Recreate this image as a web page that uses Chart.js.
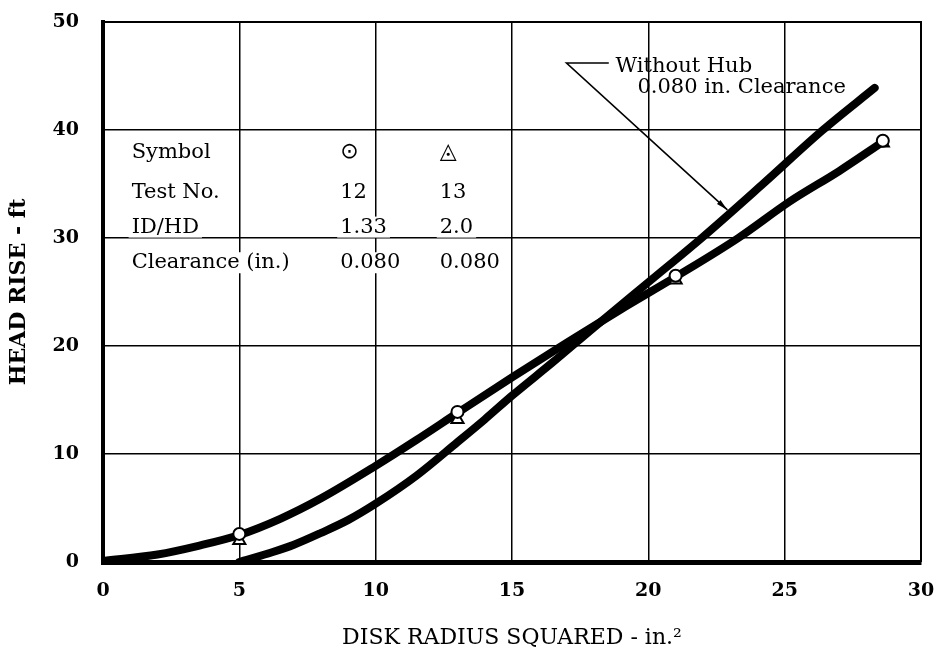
<!DOCTYPE html>
<html>
<head>
<meta charset="utf-8">
<script src="https://cdn.jsdelivr.net/npm/chart.js@4.4.1/dist/chart.umd.min.js"></script>
<style>
  html, body { margin: 0; padding: 0; background: #fff; }
</style>
</head>
<body>
<canvas id="headChart" width="936" height="658"></canvas>
<script>
// smooth curve faired through tests 12 and 13
const fitX = [0, 2, 3.5, 5, 6.5, 8, 10, 11.5, 13, 15, 17, 19, 21, 23.3, 25.2, 27, 28.6];
const fitY = [0.1, 0.7, 1.5, 2.5, 4.0, 5.9, 8.9, 11.3, 13.8, 17.1, 20.3, 23.4, 26.4, 30.0, 33.4, 36.2, 38.9];

// reference curve: no hub, 0.080 in. clearance
const noHubX = [5, 6.2, 7, 8, 9, 10, 11.5, 13, 14, 15, 16.5, 18, 20, 22, 24.2, 26.4, 28.3];
const noHubY = [0, 0.9, 1.6, 2.7, 3.9, 5.4, 8.0, 11.1, 13.2, 15.4, 18.5, 21.7, 25.9, 30.1, 35.0, 40.0, 43.9];

// measured points
const testX = [5, 13, 21, 28.6];
const test12Y = [2.6, 13.9, 26.5, 39.0];
const test13Y = [2.0, 13.2, 26.1, 38.8];

// table in the upper left
const tableRows = ['Symbol', 'Test No.', 'ID/HD', 'Clearance (in.)'];
const test12Col = ['\u2299', '12', '1.33', '0.080'];
const test13Col = ['\u25EC', '13', '2.0', '0.080'];

const noHubNote = ['Without Hub', '0.080 in. Clearance'];

const toPoints = (xs, ys) => xs.map((x, i) => ({ x: x, y: ys[i] }));

const serif = "'DejaVu Serif', serif";

// table, leader note and the thin top/right frame
const extras = {
    id: 'extras',
    beforeDatasetsDraw(chart) {
        const ctx = chart.ctx;
        const xs = chart.scales.x;
        const ys = chart.scales.y;
        const area = chart.chartArea;

        ctx.save();
        ctx.strokeStyle = '#000';
        ctx.lineWidth = 2;
        ctx.beginPath();
        ctx.moveTo(area.left, area.top);
        ctx.lineTo(area.right, area.top);
        ctx.lineTo(area.right, area.bottom);
        ctx.stroke();

        const rowY = [37.4, 33.7, 30.5, 27.2];
        const cells = (text, x, y, font) => {
            ctx.font = font;
            const px = xs.getPixelForValue(x);
            const py = ys.getPixelForValue(y);
            const m = ctx.measureText(text);
            ctx.fillStyle = '#fff';
            ctx.fillRect(px - 3, py - 16, m.width + 6, 21);
            ctx.fillStyle = '#000';
            ctx.fillText(text, px, py);
        };
        ctx.textBaseline = 'alphabetic';
        ctx.textAlign = 'left';
        tableRows.forEach((t, i) => {
            cells(t, 1.05, rowY[i], '21px ' + serif);
            const f = i === 0 ? "22px 'DejaVu Sans'" : '21px ' + serif;
            cells(test12Col[i], 8.7, rowY[i], f);
            cells(test13Col[i], 12.35, rowY[i], f);
        });

        // leader to the no-hub curve
        const ex = xs.getPixelForValue(17.0), ey = ys.getPixelForValue(46.2);
        const hx = xs.getPixelForValue(18.55);
        const tx = xs.getPixelForValue(22.9), ty = ys.getPixelForValue(32.6);
        ctx.lineWidth = 1.6;
        ctx.beginPath();
        ctx.moveTo(hx, ey);
        ctx.lineTo(ex, ey);
        ctx.lineTo(tx, ty);
        ctx.stroke();
        const ang = Math.atan2(ty - ey, tx - ex);
        ctx.beginPath();
        ctx.moveTo(tx, ty);
        ctx.lineTo(tx - 12 * Math.cos(ang - 0.22), ty - 12 * Math.sin(ang - 0.22));
        ctx.lineTo(tx - 12 * Math.cos(ang + 0.22), ty - 12 * Math.sin(ang + 0.22));
        ctx.closePath();
        ctx.fillStyle = '#000';
        ctx.fill();

        ctx.font = '21px ' + serif;
        ctx.fillText(noHubNote[0], xs.getPixelForValue(18.8), ys.getPixelForValue(45.4));
        ctx.fillText(noHubNote[1], xs.getPixelForValue(19.6), ys.getPixelForValue(43.4));
        ctx.restore();
    }
};

new Chart(document.getElementById('headChart'), {
    type: 'scatter',
    data: {
        datasets: [{
            label: 'Test 12',
            data: toPoints(testX, test12Y),
            pointStyle: 'circle',
            pointRadius: 6,
            pointBorderWidth: 2,
            pointBackgroundColor: '#fff',
            pointBorderColor: '#000',
            showLine: false,
            order: 0
        }, {
            label: 'Test 13',
            data: toPoints(testX, test13Y),
            pointStyle: 'triangle',
            pointRadius: 7,
            pointBorderWidth: 2,
            pointBackgroundColor: '#fff',
            pointBorderColor: '#000',
            showLine: false,
            order: 1
        }, {
            label: 'Faired curve',
            data: toPoints(fitX, fitY),
            showLine: true,
            borderColor: '#000',
            borderWidth: 8,
            pointRadius: 0,
            cubicInterpolationMode: 'monotone',
            borderCapStyle: 'round',
            order: 2
        }, {
            label: 'Without hub',
            data: toPoints(noHubX, noHubY),
            showLine: true,
            borderColor: '#000',
            borderWidth: 8,
            pointRadius: 0,
            cubicInterpolationMode: 'monotone',
            borderCapStyle: 'round',
            order: 3
        }]
    },
    options: {
        responsive: false,
        animation: false,
        devicePixelRatio: 1,
        layout: { padding: { top: 22, right: 15, bottom: 0, left: 0 } },
        plugins: {
            legend: { display: false },
            tooltip: { enabled: false }
        },
        scales: {
            x: {
                type: 'linear',
                min: 0,
                max: 30,
                afterFit: s => { s.height = 96; s.paddingLeft = 0; s.paddingRight = 0; },
                ticks: {
                    stepSize: 5,
                    color: '#000',
                    padding: 18,
                    font: { family: serif, size: 19, weight: 'bold' }
                },
                grid: { color: '#000', lineWidth: 1.5, drawTicks: false },
                border: { color: '#000', width: 5 },
                title: {
                    display: true,
                    text: 'DISK RADIUS SQUARED - in.\u00B2',
                    color: '#000',
                    font: { family: serif, size: 22 },
                    padding: { bottom: 7 }
                }
            },
            y: {
                type: 'linear',
                min: 0,
                max: 50,
                afterFit: s => { s.width = 103; s.paddingTop = 0; s.paddingBottom = 0; },
                ticks: {
                    stepSize: 10,
                    color: '#000',
                    padding: 24,
                    font: { family: serif, size: 19, weight: 'bold' }
                },
                grid: { color: '#000', lineWidth: 1.5, drawTicks: false },
                border: { color: '#000', width: 4 },
                title: {
                    display: true,
                    text: 'HEAD RISE - ft',
                    color: '#000',
                    font: { family: serif, size: 22, weight: 'bold' },
                    padding: { top: 6 }
                }
            }
        }
    },
    plugins: [extras]
});
</script>
</body>
</html>
